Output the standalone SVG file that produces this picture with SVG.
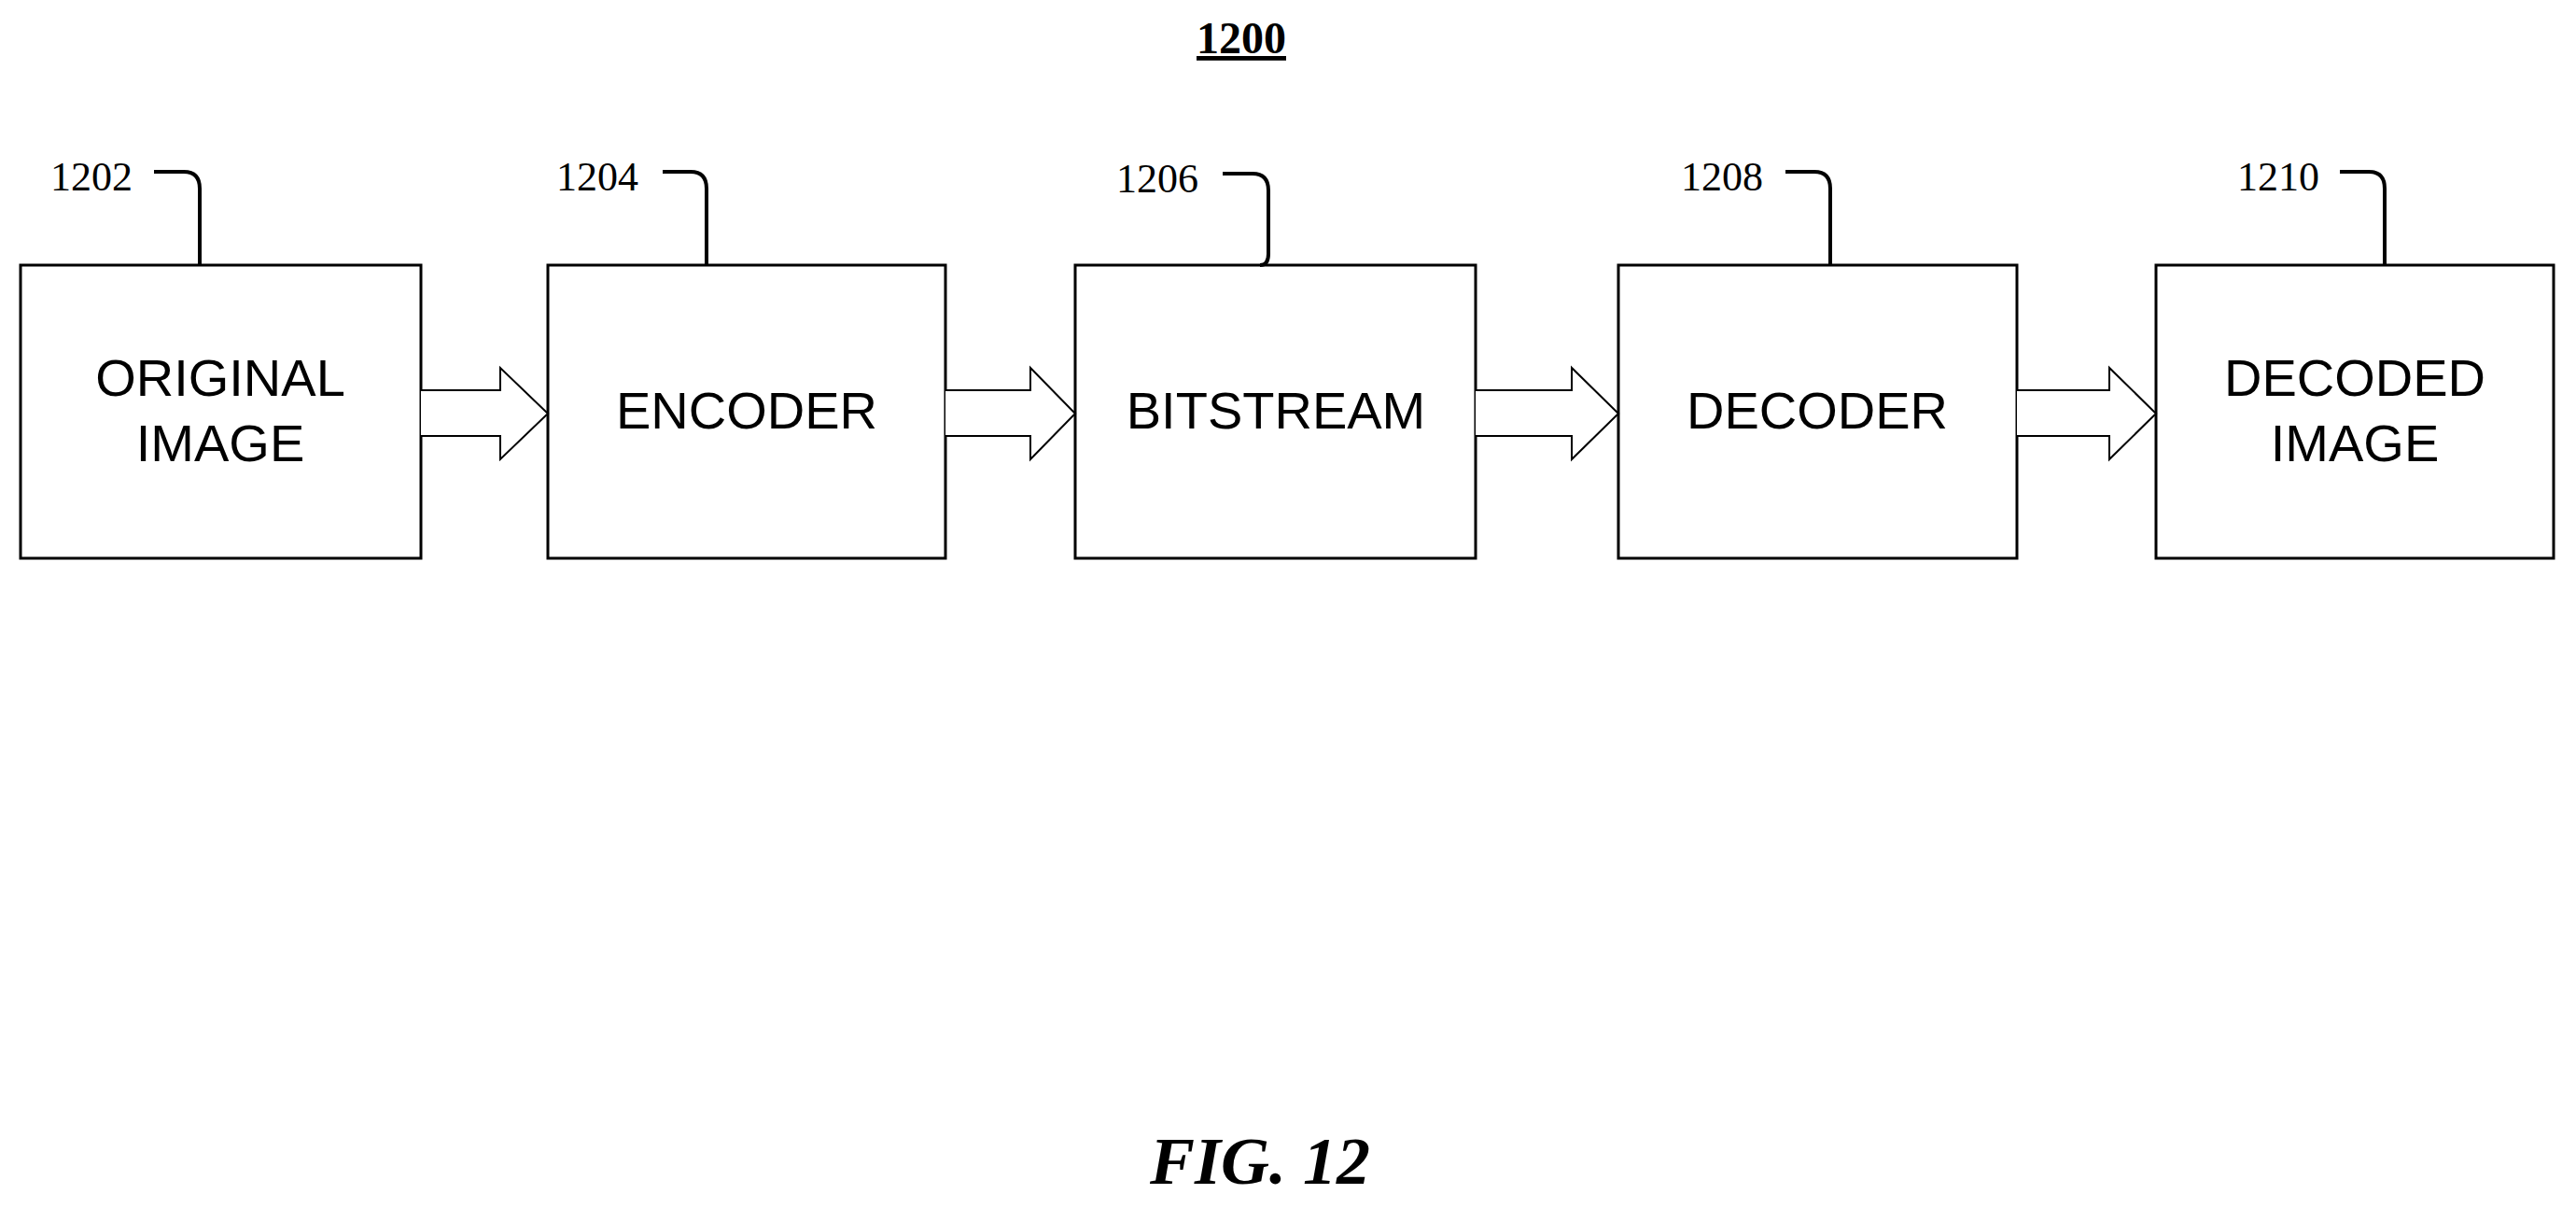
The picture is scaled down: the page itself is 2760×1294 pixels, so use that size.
<svg xmlns="http://www.w3.org/2000/svg" width="2760" height="1294" viewBox="0 0 2760 1294">
<style>
.box{fill:#fff;stroke:#000;stroke-width:3}
.lbl{font-family:"Liberation Sans",Arial,sans-serif;font-size:56px;text-anchor:middle}
.ref{font-family:"Liberation Serif","Times New Roman",serif;font-size:44px}
.lead{fill:none;stroke:#000;stroke-width:4}
.arr{fill:#fff;stroke:#000;stroke-width:2}
</style>
<rect width="2760" height="1294" fill="#fff"/>
<text x="1330" y="57" font-family="Liberation Serif,serif" font-weight="bold" font-size="48" text-anchor="middle" text-decoration="underline">1200</text>
<g id="n1202"><rect class="box" x="22" y="284" width="429" height="314"/><text class="lbl" x="236" y="424">ORIGINAL</text><text class="lbl" x="236" y="494">IMAGE</text><text class="ref" x="54" y="204">1202</text><path class="lead" d="M165,184 H197 Q214,184 214,202 V284"/></g>
<g id="n1204"><rect class="box" x="587" y="284" width="426" height="314"/><text class="lbl" x="800" y="459">ENCODER</text><text class="ref" x="596" y="204">1204</text><path class="lead" d="M710,184 H740 Q757,184 757,202 V284"/></g>
<g id="n1206"><rect class="box" x="1152" y="284" width="429" height="314"/><text class="lbl" x="1367" y="459">BITSTREAM</text><text class="ref" x="1196" y="206">1206</text><path class="lead" d="M1310,186 H1342 Q1359,186 1359,204 V272 Q1359,284 1350,284"/></g>
<g id="n1208"><rect class="box" x="1734" y="284" width="427" height="314"/><text class="lbl" x="1947" y="459">DECODER</text><text class="ref" x="1801" y="204">1208</text><path class="lead" d="M1913,184 H1944 Q1961,184 1961,202 V284"/></g>
<g id="n1210"><rect class="box" x="2310" y="284" width="426" height="314"/><text class="lbl" x="2523" y="424">DECODED</text><text class="lbl" x="2523" y="494">IMAGE</text><text class="ref" x="2397" y="204">1210</text><path class="lead" d="M2507,184 H2538 Q2555,184 2555,202 V284"/></g>
<g id="connectors">
<path class="arr" d="M451,418 H536 V394 L587,443 L536,492 V467 H451"/>
<path class="arr" d="M1013,418 H1104 V394 L1152,443 L1104,492 V467 H1013"/>
<path class="arr" d="M1581,418 H1684 V394 L1734,443 L1684,492 V467 H1581"/>
<path class="arr" d="M2161,418 H2260 V394 L2310,443 L2260,492 V467 H2161"/>
</g>
<text x="1350" y="1268" font-family="Liberation Serif,serif" font-weight="bold" font-style="italic" font-size="72" text-anchor="middle">FIG. 12</text>
</svg>
